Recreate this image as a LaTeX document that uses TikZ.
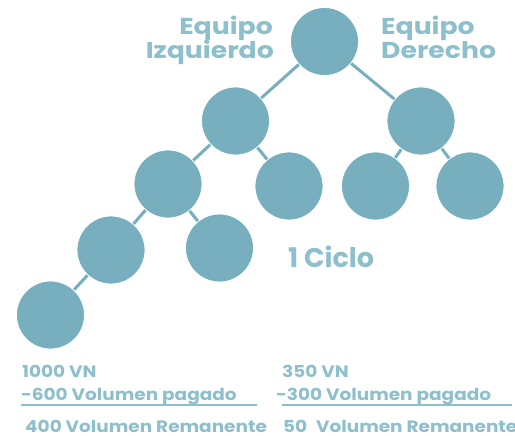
\documentclass[tikz,border=0pt]{standalone}
\usepackage{fontspec}
\setmainfont{Poppins}
\newfontfamily\widefont[FakeStretch=1.16]{Poppins}
\newfontfamily\midfont[FakeStretch=1.12]{Poppins}
\definecolor{teal}{HTML}{77AFBF}
\definecolor{tealtext}{HTML}{8DC0CC}
\begin{document}
\begin{tikzpicture}[x=1pt,y=-1pt,
  dot/.style={circle,fill=teal,draw=white,line width=0.8pt,minimum size=68pt,inner sep=0pt},
  link/.style={draw=teal,line width=3pt},
  title/.style={text=tealtext,font=\widefont\bfseries\fontsize{23}{23}\selectfont,inner sep=0pt},
  small/.style={text=tealtext,font=\midfont\bfseries\fontsize{16.5}{16.5}\selectfont,inner sep=0pt,anchor=base west,text depth=0pt},
  rule/.style={draw=tealtext,line width=1.5pt}]
\useasboundingbox (0,0) rectangle (515,436);
\fill[white] (0,0) rectangle (515,436);
\coordinate (p0) at (324.5,41.5);
\coordinate (p1) at (235.5,121);
\coordinate (p2) at (421,121);
\coordinate (p3) at (168,184);
\coordinate (p4) at (289,186);
\coordinate (p5) at (375.5,186);
\coordinate (p6) at (470,186);
\coordinate (p7) at (111,250);
\coordinate (p8) at (219.5,248);
\coordinate (p9) at (50.5,315);
\draw[link] (p0) -- (p1) (p0) -- (p2) (p1) -- (p3) (p1) -- (p4)
  (p2) -- (p5) (p2) -- (p6) (p3) -- (p7) (p3) -- (p8) (p7) -- (p9);
\foreach \i in {0,...,9} \node[dot] (n\i) at (p\i) {};
\node[title,anchor=base east] (tl1) at (273,35) {Equipo};
\node[title,anchor=base east] (tl2) at (274,59) {Izquierdo};
\node[title,anchor=base west] (tr1) at (381,35) {Equipo};
\node[title,anchor=base west] (tr2) at (381,59) {Derecho};
\node[text=tealtext,font=\bfseries\fontsize{27}{27}\selectfont,inner sep=0pt,anchor=base west] (cy) at (288,267) {1 Ciclo};
\node[small] (a1) at (22,377) {1000 VN};
\node[small] (a2) at (21,400) {-600 Volumen pagado};
\node[small] (a3) at (25,432.5) {400 Volumen Remanente};
\node[small] (b1) at (282,377) {350 VN};
\node[small] (b2) at (276,400) {-300 Volumen pagado};
\node[small] (b3) at (283,432.5) {50\hspace{0.3em} Volumen Remanente};
\coordinate (ra1) at (21,405);
\coordinate (ra2) at (257,405);
\coordinate (rb1) at (282,405);
\coordinate (rb2) at (512,405);
\draw[rule] (ra1) -- (ra2);
\draw[rule] (rb1) -- (rb2);
\end{tikzpicture}
\end{document}
